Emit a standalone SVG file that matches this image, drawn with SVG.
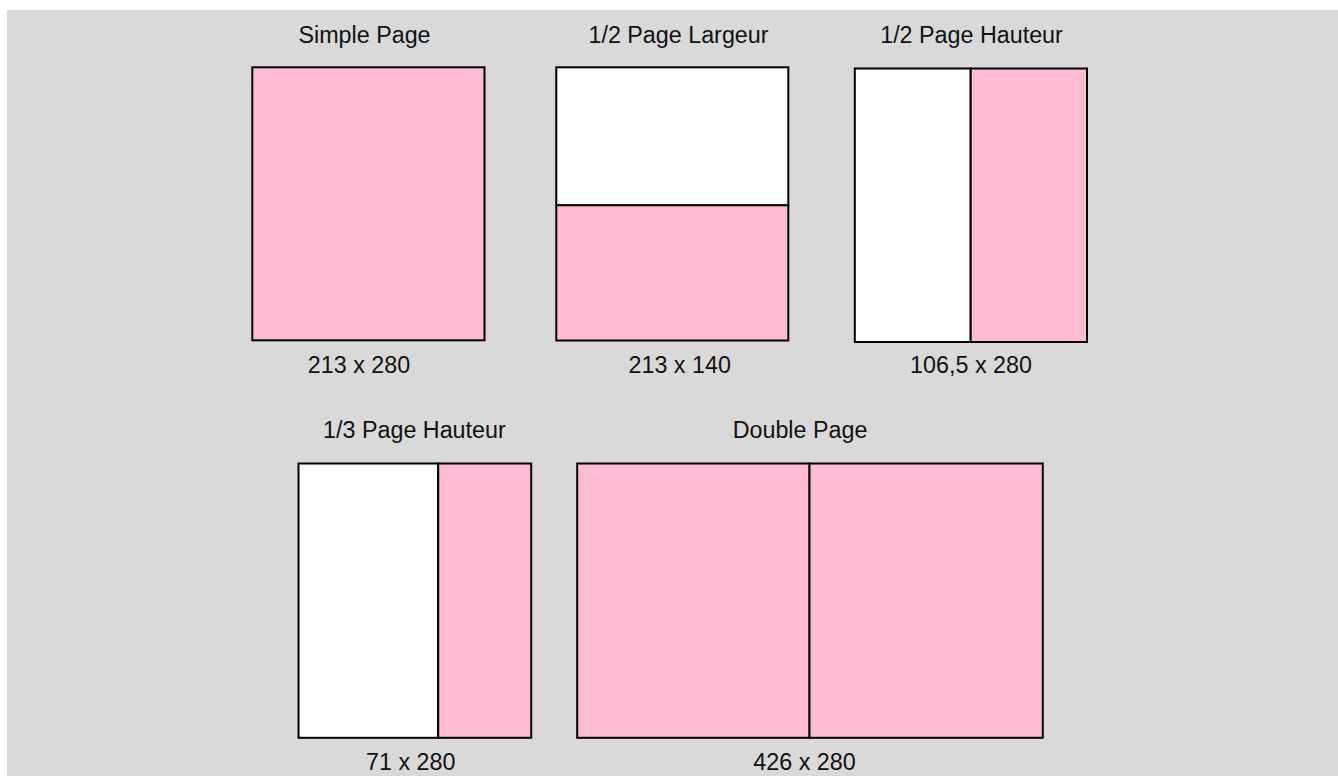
<svg xmlns="http://www.w3.org/2000/svg" width="1338" height="776" viewBox="0 0 1338 776">
<style>
.bg{fill:#D9D9D9}
.pk{fill:#FFBBD0;stroke:#000;stroke-width:2}
.wh{fill:#FFFFFF;stroke:#000;stroke-width:2}
.ln{stroke:#000;stroke-width:2;fill:none}
.t{font-family:"Liberation Sans",Arial,sans-serif;font-size:23.3px;fill:#111;text-anchor:middle}
</style>
<rect x="0" y="0" width="1338" height="776" fill="#FFFFFF"/>
<rect class="bg" x="7" y="10" width="1331" height="766"/>
<g id="simple-page">
<text class="t" x="364.5" y="42.7">Simple Page</text>
<rect class="pk" x="252.3" y="67.3" width="232.2" height="273"/>
<text class="t" x="359" y="373.3">213 x 280</text>
</g>
<g id="half-page-largeur">
<text class="t" x="678.5" y="42.7">1/2 Page Largeur</text>
<rect class="wh" x="556.3" y="67.3" width="232" height="138"/>
<rect class="pk" x="556.3" y="205.3" width="232" height="135.2"/>
<text class="t" x="679.7" y="373.3">213 x 140</text>
</g>
<g id="half-page-hauteur">
<text class="t" x="971.5" y="42.7">1/2 Page Hauteur</text>
<rect class="wh" x="854.8" y="68.5" width="115.9" height="273.5"/>
<rect class="pk" x="970.7" y="68.5" width="116.3" height="273.5"/>
<text class="t" x="971" y="373.3">106,5 x 280</text>
</g>
<g id="third-page-hauteur">
<text class="t" x="414.4" y="438.3">1/3 Page Hauteur</text>
<rect class="wh" x="298.5" y="463.5" width="139.7" height="274.3"/>
<rect class="pk" x="438.2" y="463.5" width="93" height="274.3"/>
<text class="t" x="410.8" y="770">71 x 280</text>
</g>
<g id="double-page">
<text class="t" x="800" y="438.3">Double Page</text>
<rect class="pk" x="577.2" y="463.5" width="232.3" height="274.3"/>
<rect class="pk" x="809.5" y="463.5" width="233.3" height="274.3"/>
<text class="t" x="804.5" y="770">426 x 280</text>
</g>
<g id="connectors"></g>
</svg>
